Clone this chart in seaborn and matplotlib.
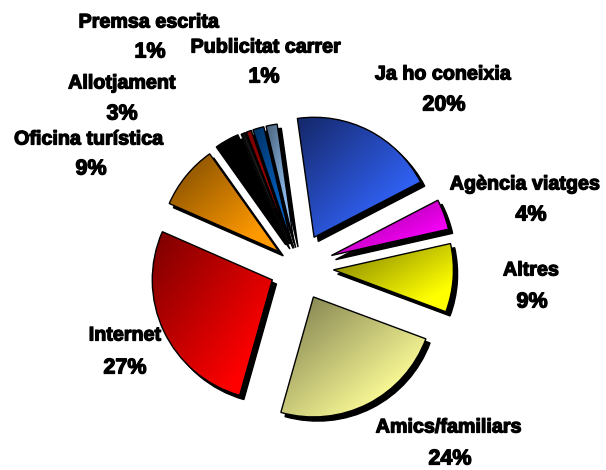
import numpy as np
import seaborn as sns
import matplotlib.pyplot as plt
import matplotlib.patheffects as pe

# Dades (% de cada sector, llegits del gràfic)
labels = ["Ja ho coneixia", "Agència viatges", "Altres", "Amics/familiars", "Internet",
          "Oficina turística", "Allotjament", "", "", "Premsa escrita", "Publicitat carrer"]
values = [19.6, 4.1, 9.2, 23.7, 27.2, 8.6, 3.3, 0.6, 0.7, 1.5, 1.5]
shown = ["20%", "4%", "9%", "24%", "27%", "9%", "3%", "", "", "1%", "1%"]

# Estil (a pie() l'explode va en unitats de dades, aqui pixels)
explode = [34, 35, 35, 33, 29, 25, 26, 25, 25, 25, 25]
dark = ["#162a70", "#8c008c", "#808000", "#808050", "#800000", "#804d00",
        "#000000", "#101010", "#800000", "#003366", "#4d6680"]
bright = ["#3366ff", "#ff00ff", "#ffff00", "#ffff99", "#ff0000", "#ff9900",
          "#000000", "#303030", "#a00000", "#0066cc", "#99ccff"]
# posicio del nom i del percentatge, en pixels des de dalt
name_pos = [(443, 74), (525, 184), (531, 270), (449, 427), (125, 335),
            (89, 139), (122, 83), None, None, (149, 22), (266, 47)]
pct_pos = [(444, 105), (531, 215), (532, 302), (450, 459), (125, 368),
           (91, 169), (122, 114), None, None, (150, 52), (264, 77)]

sns.set_theme(style="white")
plt.rcParams["font.family"] = ["Liberation Sans", "DejaVu Sans"]

fig = plt.figure(figsize=(6.06, 4.70), dpi=100)
ax = fig.add_axes([0, 0, 1, 1])

wedges, _ = ax.pie(values, explode=explode, startangle=98, counterclock=False,
                   center=(298.5, 202.5), radius=120, frame=True,
                   shadow={"ox": 3, "oy": -3, "facecolor": "black", "edgecolor": "black", "alpha": 1})

# Degradat diagonal dins de cada sector
ramp = np.add.outer(np.linspace(0, 1, 128), np.linspace(0, 1, 128)) / 2
ramp = np.clip(ramp * 1.3 - 0.05, 0, 1)
for w, c1, c2 in zip(wedges, dark, bright):
    box = w.get_path().get_extents()
    cmap = sns.blend_palette([c1, c2], as_cmap=True)
    im = ax.imshow(ramp, cmap=cmap, vmin=0, vmax=1, aspect="auto", zorder=2, origin="upper",
                   extent=(box.x0, box.x1, box.y0, box.y1))
    im.set_clip_path(w)
    w.set_facecolor("none")
    w.set_edgecolor("black")
    w.set_linewidth(1.0)
    w.set_zorder(3)

ax.set_xlim(0, 606)
ax.set_ylim(0, 470)
ax.set_aspect("auto")
ax.axis("off")

stroke = [pe.withStroke(linewidth=0.9, foreground="black")]
for name, pct, p1, p2 in zip(labels, shown, name_pos, pct_pos):
    if p1 is None:
        continue
    ax.text(p1[0], 470 - p1[1], name, ha="center", va="center", fontsize=14.2,
            fontweight="bold", color="black", zorder=5, path_effects=stroke)
    ax.text(p2[0], 470 - p2[1], pct, ha="center", va="center", fontsize=15.5,
            fontweight="bold", color="black", zorder=5, path_effects=stroke)

plt.savefig("out.png", dpi=100)
